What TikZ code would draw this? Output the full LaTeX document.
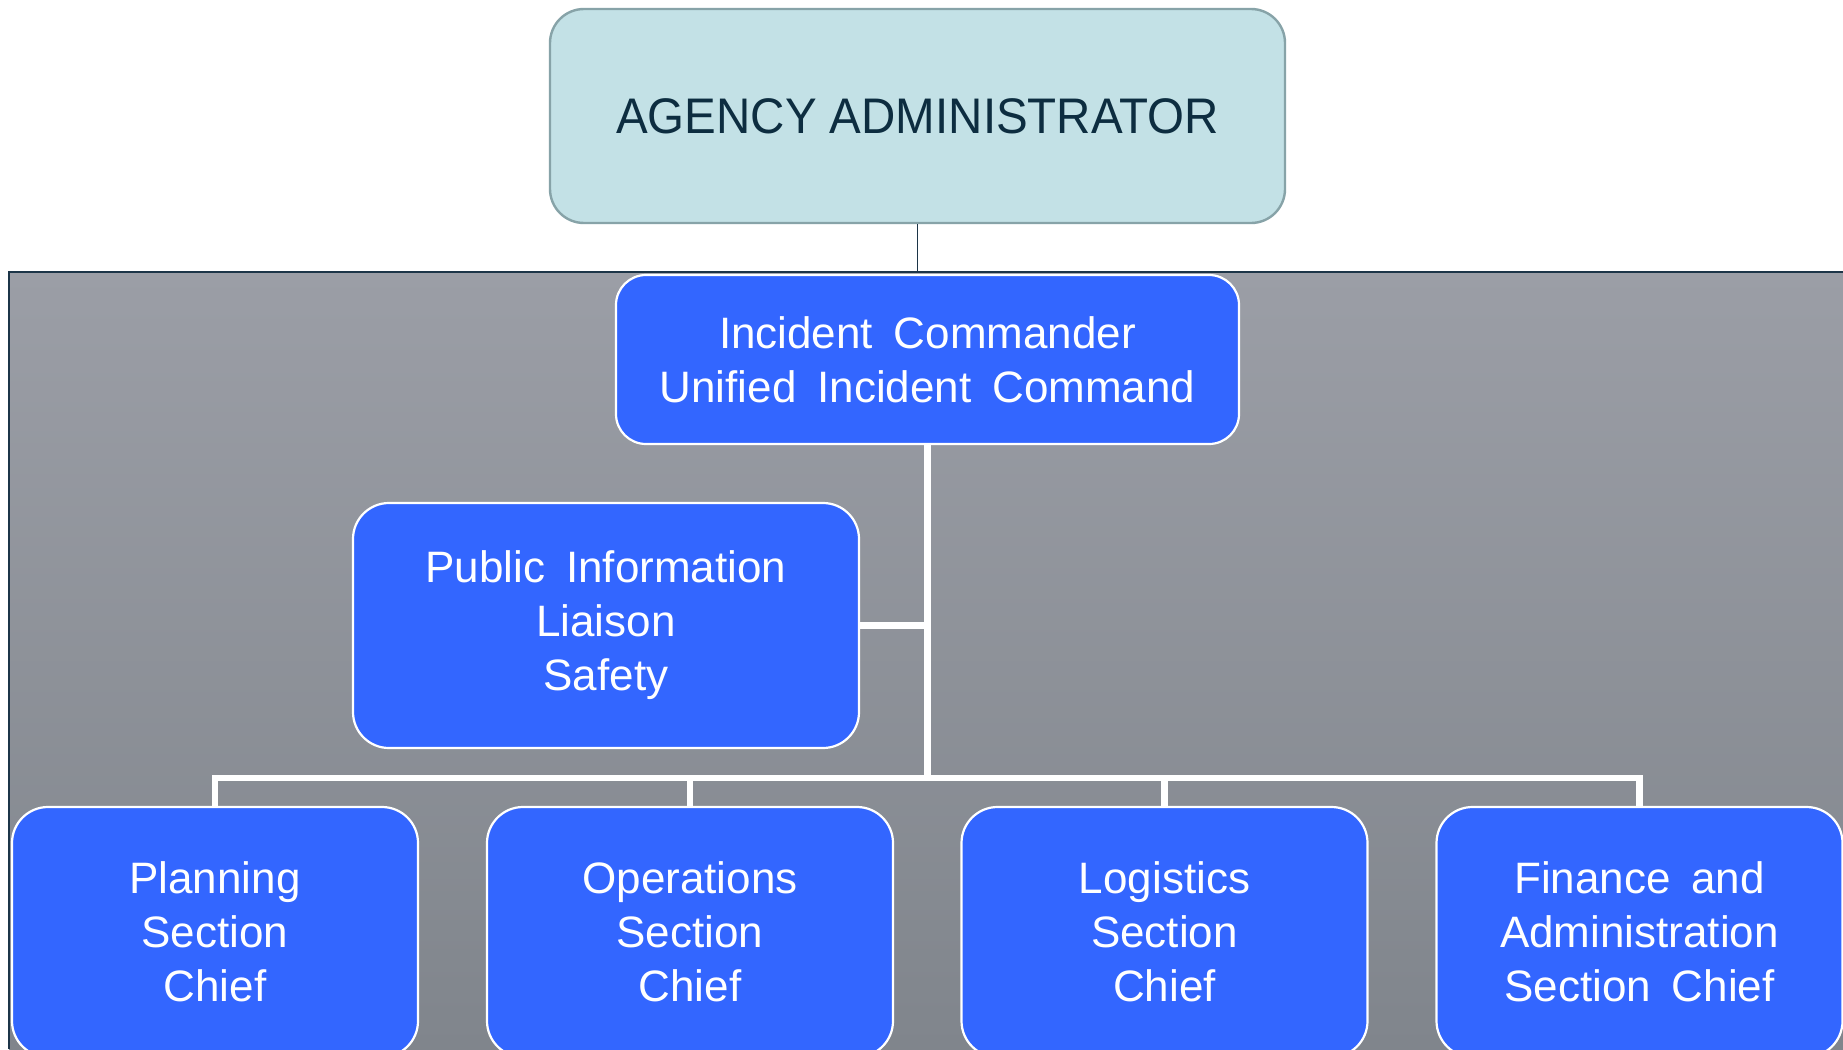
\documentclass[tikz,border=0pt]{standalone}
\usepackage{fontspec}
\setmainfont{Liberation Sans}
\newfontfamily\wfont[WordSpace=1.7]{Liberation Sans}
\newfontfamily\afont[FakeStretch=0.95]{Liberation Sans}
\definecolor{agfill}{HTML}{C3E1E6}
\definecolor{agdraw}{HTML}{87A3A8}
\definecolor{agtext}{HTML}{0D2D40}
\definecolor{navy}{HTML}{1C3548}
\definecolor{boxblue}{HTML}{3366FF}
\definecolor{bgtop}{HTML}{9B9EA6}
\definecolor{bgbot}{HTML}{80858C}
\tikzset{
  agbox/.style={draw=agdraw, line width=2.4pt, fill=agfill, rounded corners=34pt,
    minimum width=735pt, minimum height=214pt, inner sep=0pt,
    font=\afont\fontsize{50}{60}\selectfont, text=agtext},
  bluebox/.style={draw=white, line width=2.2pt, fill=boxblue, rounded corners=36pt,
    inner sep=0pt, align=center, text=white,
    font=\wfont\fontsize{44}{54}\selectfont},
  secbox/.style={bluebox, minimum width=406pt, minimum height=250pt},
  conn/.style={draw=white, line width=6.5pt},
}
\begin{document}
\begin{tikzpicture}[x=1pt,y=-1pt]
\useasboundingbox (0,0) rectangle (1843,1049);
\fill[white] (0,0) rectangle (1843,1049);
\shade[top color=bgtop, bottom color=bgbot] (9,272) rectangle (1843,1049);
\draw[navy, line width=1.6pt] (9,1049) -- (9,272) -- (1843,272);

\node[agbox] (ag) at (917.5,116) {AGENCY ADMINISTRATOR};
\coordinate (agend) at (917.5,272);
\draw[navy, line width=1.6pt] (ag.south) -- (agend);

\node[bluebox, rounded corners=30pt, minimum width=623pt, minimum height=169pt] (ic) at (927.5,359.5)
  {Incident Commander\\Unified Incident Command};
\node[bluebox, minimum width=506pt, minimum height=245pt] (pi) at (606,625.5)
  {Public Information\\Liaison\\Safety};
\node[secbox] (plan) at (215,932) {Planning\\Section\\Chief};
\node[secbox] (ops) at (690,932) {Operations\\Section\\Chief};
\node[secbox] (log) at (1164.5,932) {Logistics\\Section\\Chief};
\node[secbox] (fin) at (1639.5,932) {Finance and\\Administration\\Section Chief};

\coordinate (bus) at (927.5,778);
\draw[conn] (ic.south) -- (bus);
\draw[conn] (pi.east) -- (pi.east -| bus);
\draw[conn] (plan.north) |- (bus) -| (fin.north);
\draw[conn] (ops.north) -- (ops.north |- bus);
\draw[conn] (log.north) -- (log.north |- bus);
\end{tikzpicture}
\end{document}
